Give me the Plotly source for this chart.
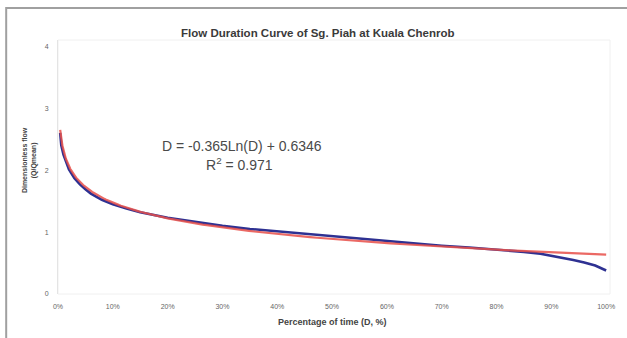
import numpy as np
import plotly.graph_objects as go

# Observed flow duration data (fraction of time exceeded, dimensionless flow)
duration = [0.004, 0.006, 0.01, 0.015, 0.02, 0.03, 0.04, 0.05, 0.06, 0.08, 0.10,
            0.125, 0.15, 0.20, 0.25, 0.30, 0.35, 0.40, 0.45, 0.50, 0.55, 0.60,
            0.65, 0.70, 0.75, 0.80, 0.85, 0.88, 0.90, 0.92, 0.94, 0.96, 0.98, 1.00]
flow = [2.60, 2.40, 2.25, 2.11, 2.01, 1.87, 1.77, 1.69, 1.62, 1.52, 1.45,
        1.38, 1.32, 1.23, 1.16, 1.10, 1.05, 1.01, 0.97, 0.93, 0.89, 0.85,
        0.82, 0.78, 0.75, 0.72, 0.68, 0.65, 0.62, 0.59, 0.55, 0.51, 0.46, 0.38]

# Logarithmic trendline shown on the chart: y = a*ln(D) + b
trend_a = -0.365
trend_b = 0.6346
trend_r2 = 0.971

x_ticks = [0, 0.1, 0.2, 0.3, 0.4, 0.5, 0.6, 0.7, 0.8, 0.9, 1.0]
x_tick_labels = ["0%", "10%", "20%", "30%", "40%", "50%", "60%", "70%", "80%", "90%", "100%"]
y_ticks = [0, 1, 2, 3, 4]

title_text = "Flow Duration Curve of Sg. Piah at Kuala Chenrob"
x_title = "Percentage of time (D, %)"
y_title = "Dimensionless flow<br>(Q/Qmean)"

trend_x = np.geomspace(duration[0], 1.0, 200)
trend_y = trend_a * np.log(trend_x) + trend_b

FONT = "Liberation Sans, Arial, sans-serif"

fig = go.Figure()
fig.add_trace(go.Scatter(x=duration, y=flow, mode="lines",
                         line=dict(color="#2E3192", width=2.6), showlegend=False))
fig.add_trace(go.Scatter(x=trend_x, y=trend_y, mode="lines",
                         line=dict(color="#E8504A", width=2.2), opacity=0.85, showlegend=False))

# plot area in px: left 58, right 612, top 40, bottom 294
L, R, T, B = 58, 612, 40, 294
W, H = R - L, B - T
def px(xp):
    return (xp - L) / W
def py(yp):
    return (B - yp) / H

def note(text, x, y, size, color="#444", angle=0):
    return dict(text=text, xref="paper", yref="paper", x=px(x), y=py(y),
                xanchor="center", yanchor="middle", showarrow=False, textangle=angle,
                font=dict(size=size, color=color, family=FONT))

fig.update_layout(
    width=627, height=338,
    margin=dict(l=L, r=627 - R, t=T, b=338 - B, pad=0),
    paper_bgcolor="white", plot_bgcolor="white",
    font=dict(family=FONT, color="#555"),
    xaxis=dict(range=[0, 1.007], tickvals=x_ticks, ticktext=x_tick_labels,
               showgrid=False, zeroline=False, showline=False, ticklabelstandoff=7,
               tickfont=dict(size=7, color="#666", family=FONT), ticks="", ticklen=0),
    yaxis=dict(range=[0, 4.1], tickvals=y_ticks, showgrid=False, zeroline=False,
               showline=True, linecolor="#e4e4e4", linewidth=1, ticklabelstandoff=7,
               tickfont=dict(size=7, color="#666", family=FONT), ticks="", ticklen=0),
    shapes=[
        dict(type="rect", xref="paper", yref="paper",
             x0=px(6), x1=px(660), y0=py(360), y1=py(8),
             line=dict(color="#a0a0a0", width=2), fillcolor="rgba(0,0,0,0)", layer="below"),
        dict(type="rect", xref="paper", yref="paper",
             x0=0, x1=1, y0=0, y1=1,
             line=dict(color="#f0f0f0", width=1), fillcolor="rgba(0,0,0,0)", layer="below"),
    ],
    annotations=[
        note("<b>" + title_text + "</b>", 318, 33, 11.5, "#3a3a3a"),
        note("D = -0.365Ln(D) + 0.6346", 243, 146, 14, "#4a4a4a"),
        note(f"R<sup>2</sup> = {trend_r2}", 240, 164, 14, "#4a4a4a"),
        note("<b>" + x_title + "</b>", 333, 322, 9),
        note("<b>" + y_title + "</b>", 29, 160, 7, angle=-90),
    ],
)

fig.write_html("out.html")
